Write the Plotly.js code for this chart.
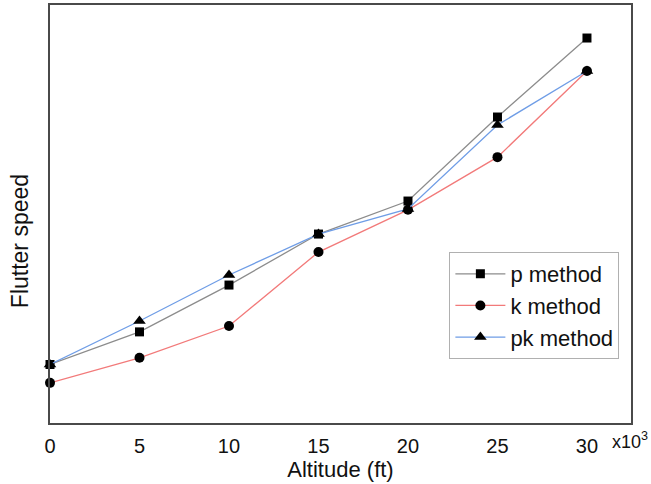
<!DOCTYPE html>
<html>
<head>
<meta charset="utf-8">
<script src="https://cdn.plot.ly/plotly-3.0.1.min.js"></script>
<style>html,body{margin:0;padding:0;background:#fff;}#chart{width:651px;height:484px;}</style>
</head>
<body>
<div id="chart"></div>
<script>
const altitude = [0, 5, 10, 15, 20, 25, 30];
const pMethod = [14.0, 21.8, 33.0, 45.2, 53.1, 73.2, 92.1];
const kMethod = [9.6, 15.6, 23.2, 40.9, 51.0, 63.6, 84.2];
const pkMethod = [14.0, 24.4, 35.4, 45.2, 51.2, 71.3, 84.2];
const xTicks = [0, 5, 10, 15, 20, 25, 30];
const seriesNames = ['p method', 'k method', 'pk method'];

const mk = (y, name, lineColor, symbol, size) => ({
  x: altitude, y: y, name: name, type: 'scatter', mode: 'lines+markers',
  line: {color: lineColor, width: 1.3},
  marker: {color: '#000', symbol: symbol, size: size},
  cliponaxis: false
});

const data = [
  mk(pMethod, seriesNames[0], '#8c8c8c', 'square', 9),
  mk(kMethod, seriesNames[1], '#f27a7a', 'circle', 10),
  mk(pkMethod, seriesNames[2], '#6f9de6', 'triangle-up', 11)
];

const layout = {
  width: 651, height: 484,
  margin: {l: 50, r: 20, t: 5, b: 61},
  paper_bgcolor: '#fff', plot_bgcolor: '#fff',
  font: {family: 'Liberation Sans, Arial, sans-serif', color: '#111', size: 20},
  showlegend: true,
  legend: {
    x: 0.98, y: 0.409, xanchor: 'right', yanchor: 'top',
    bordercolor: '#b0b0b0', borderwidth: 1, bgcolor: '#fff',
    font: {size: 22, color: '#111'},
    itemwidth: 50, tracegroupgap: 0
  },
  xaxis: {
    range: [0, 32.46], tickvals: xTicks, ticktext: xTicks.map(String),
    showgrid: false, zeroline: false, ticks: '', ticklabelstandoff: 4,
    showline: true, mirror: true, linecolor: '#4a4a4a', linewidth: 2,
    tickfont: {size: 20, color: '#111'},
    title: {text: 'Altitude (ft)', font: {size: 22, color: '#111'}, standoff: 3}
  },
  yaxis: {
    range: [0, 100], showticklabels: false, showgrid: false, zeroline: false, ticks: '',
    showline: true, mirror: true, linecolor: '#4a4a4a', linewidth: 2
  },
  annotations: [
    {
      xref: 'paper', yref: 'paper', x: 0.963, y: 0, xanchor: 'left', yanchor: 'top', yshift: -4,
      text: 'x10<sup>3</sup>', showarrow: false, font: {size: 18, color: '#111'}
    },
    {
      xref: 'paper', yref: 'paper', x: 0, y: 0.435, xanchor: 'center', yanchor: 'middle',
      xshift: -30, textangle: -90,
      text: 'Flutter speed', showarrow: false, font: {size: 23, color: '#111'}
    }
  ]
};

Plotly.newPlot('chart', data, layout, {displayModeBar: false, staticPlot: true});
</script>
</body>
</html>
